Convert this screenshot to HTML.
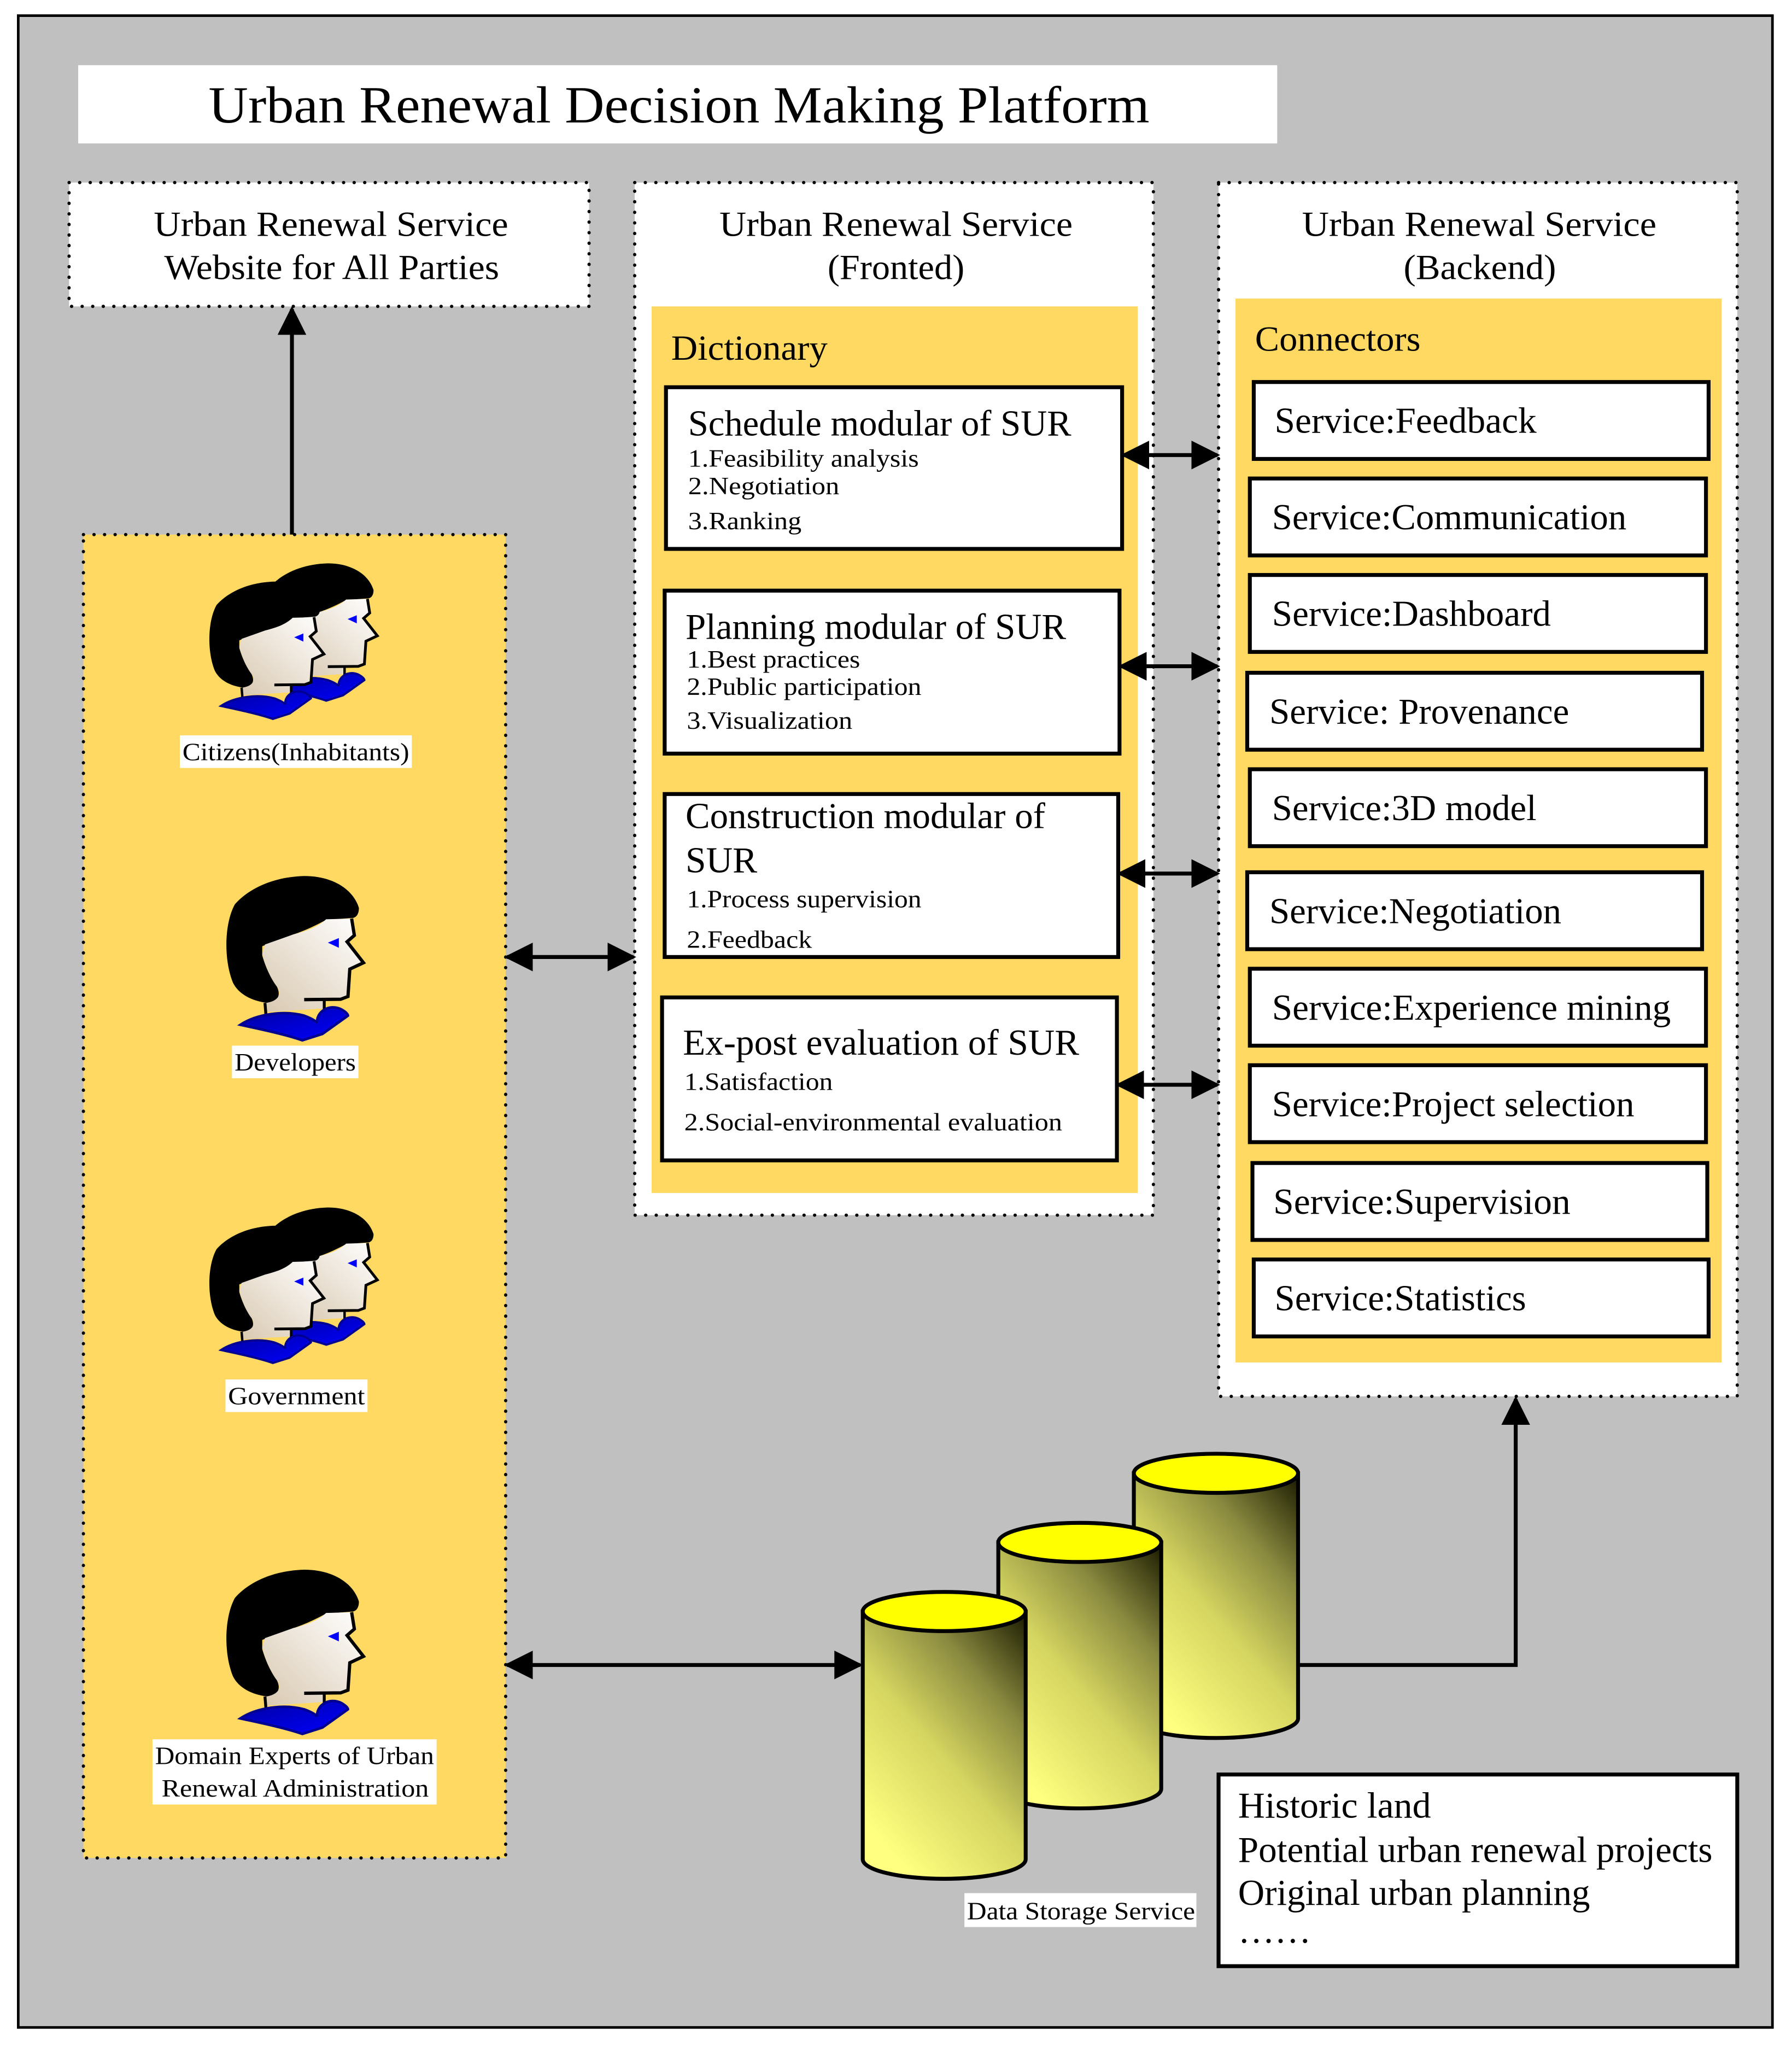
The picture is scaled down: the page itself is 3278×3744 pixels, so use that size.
<!DOCTYPE html>
<html><head><meta charset="utf-8"><style>html,body{margin:0;padding:0;background:#fff}svg{display:block}text{font-family:"Liberation Serif",serif;fill:#000}</style></head><body>
<svg width="3278" height="3744" viewBox="0 0 1375 1570" preserveAspectRatio="none" xmlns="http://www.w3.org/2000/svg">
<defs>
<linearGradient id="cyl" x1="1" y1="0" x2="0.3" y2="1">
<stop offset="0" stop-color="#1a1a00"/><stop offset="0.3" stop-color="#8a8a40"/><stop offset="0.6" stop-color="#d4d460"/><stop offset="1" stop-color="#ffff80"/></linearGradient>
<linearGradient id="skin" x1="0" y1="1" x2="1" y2="0">
<stop offset="0" stop-color="#d8c8b0"/><stop offset="1" stop-color="#ffffff"/></linearGradient>
<linearGradient id="shirt" x1="0" y1="0" x2="1" y2="1">
<stop offset="0" stop-color="#0000a0"/><stop offset="1" stop-color="#0000ff"/></linearGradient>
<marker id="ahb" viewBox="0 0 10 10" refX="9" refY="5" markerWidth="22" markerHeight="22" markerUnits="userSpaceOnUse" orient="auto-start-reverse"><path d="M0,0 L10,5 L0,10 Z" fill="#000"/></marker>
<g id="p">
<path d="M180,190 C250,110 380,40 560,35 C720,35 830,110 860,210 C860,250 840,265 820,265 L680,275 C600,320 520,350 500,355 C420,390 350,410 330,420 L330,470 C350,540 380,600 410,640 C440,700 400,730 360,730 C270,720 200,680 170,620 C120,500 120,300 180,190 Z" fill="#000"/>
<path d="M345,410 L500,355 C560,340 630,320 680,272 L820,268 L835,360 L795,395 L885,510 L810,545 L800,695 L760,710 L670,712 L670,760 L355,780 L350,730 C420,720 440,680 410,640 C380,600 345,530 330,460 Z" fill="url(#skin)"/>
<path d="M820,268 L835,360 L795,395 L885,510 L810,545 L800,695 L760,710 L560,712" fill="none" stroke="#000" stroke-width="18"/>
<path d="M345,730 L350,790 M670,712 L670,770" stroke="#000" stroke-width="16"/>
<path d="M690,400 L750,375 L750,428 Z" fill="#0000ff"/>
<path d="M210,850 C300,790 450,770 560,800 C600,815 625,830 630,840 C630,780 680,750 730,755 C770,760 800,790 800,800 L660,900 L550,935 C450,900 300,870 210,850 Z" fill="url(#shirt)" stroke="#000090" stroke-width="14"/>
</g>
</defs>
<rect x="0" y="0" width="1375" height="1570" fill="#fff"/>
<rect x="14" y="12" width="1346" height="1543" fill="#c0c0c0" stroke="#000" stroke-width="2"/>
<rect x="60" y="50" width="920" height="60" fill="#fff"/>
<text x="160" y="94" font-size="40" textLength="722" lengthAdjust="spacingAndGlyphs">Urban Renewal Decision Making Platform</text>

<g stroke="#000" stroke-width="2.5" stroke-dasharray="0.1 8" stroke-linecap="round">
<rect x="53" y="140" width="399" height="95" fill="#fff"/>
<rect x="487" y="140" width="398" height="792" fill="#fff"/>
<rect x="935" y="140" width="398" height="931" fill="#fff"/>
<rect x="64" y="410" width="324" height="1015" fill="#ffd962"/>
</g>
<g font-size="27">
<text x="118" y="181" textLength="272" lengthAdjust="spacingAndGlyphs">Urban Renewal  Service</text>
<text x="126" y="214" textLength="257" lengthAdjust="spacingAndGlyphs">Website for All Parties</text>
<text x="552" y="181" textLength="271" lengthAdjust="spacingAndGlyphs">Urban Renewal  Service</text>
<text x="635" y="214" textLength="105" lengthAdjust="spacingAndGlyphs">(Fronted)</text>
<text x="999" y="181" textLength="272" lengthAdjust="spacingAndGlyphs">Urban Renewal  Service</text>
<text x="1077" y="214" textLength="117" lengthAdjust="spacingAndGlyphs">(Backend)</text>
</g>
<rect x="500" y="235" width="373" height="680" fill="#ffd962"/>
<rect x="948" y="229" width="373" height="816" fill="#ffd962"/>
<text x="515" y="276" font-size="27" textLength="120" lengthAdjust="spacingAndGlyphs">Dictionary</text>
<text x="963" y="269" font-size="27" textLength="127" lengthAdjust="spacingAndGlyphs">Connectors</text>

<g fill="#fff" stroke="#000" stroke-width="3">
<rect x="511" y="297" width="350" height="124"/>
<rect x="510" y="453" width="349" height="125"/>
<rect x="510" y="609" width="348" height="125"/>
<rect x="508" y="765" width="349" height="125"/>
</g>
<text x="528" y="334" font-size="28" textLength="294" lengthAdjust="spacingAndGlyphs">Schedule modular of SUR</text>
<g font-size="19">
<text x="528" y="358" textLength="177" lengthAdjust="spacingAndGlyphs">1.Feasibility analysis</text>
<text x="528" y="379" textLength="116" lengthAdjust="spacingAndGlyphs">2.Negotiation</text>
<text x="528" y="406" textLength="87" lengthAdjust="spacingAndGlyphs">3.Ranking</text>
</g>
<text x="526" y="490" font-size="28" textLength="292" lengthAdjust="spacingAndGlyphs">Planning modular of SUR</text>
<g font-size="19">
<text x="527" y="512" textLength="133" lengthAdjust="spacingAndGlyphs">1.Best practices</text>
<text x="527" y="533" textLength="180" lengthAdjust="spacingAndGlyphs">2.Public participation</text>
<text x="527" y="559" textLength="127" lengthAdjust="spacingAndGlyphs">3.Visualization</text>
</g>
<text x="526" y="635" font-size="28" textLength="276" lengthAdjust="spacingAndGlyphs">Construction modular of</text>
<text x="526" y="669" font-size="28" textLength="55" lengthAdjust="spacingAndGlyphs">SUR</text>
<g font-size="19">
<text x="527" y="696" textLength="180" lengthAdjust="spacingAndGlyphs">1.Process supervision</text>
<text x="527" y="727" textLength="96" lengthAdjust="spacingAndGlyphs">2.Feedback</text>
</g>
<text x="524" y="809" font-size="28" textLength="304" lengthAdjust="spacingAndGlyphs">Ex-post evaluation of SUR</text>
<g font-size="19">
<text x="525" y="836" textLength="114" lengthAdjust="spacingAndGlyphs">1.Satisfaction</text>
<text x="525" y="867" textLength="290" lengthAdjust="spacingAndGlyphs">2.Social-environmental evaluation</text>
</g>

<g fill="#fff" stroke="#000" stroke-width="3">
<rect x="962" y="293" width="349" height="59"/>
<rect x="959" y="367" width="350" height="59"/>
<rect x="959" y="441" width="350" height="59"/>
<rect x="957" y="516" width="349" height="59"/>
<rect x="959" y="590" width="350" height="59"/>
<rect x="957" y="669" width="349" height="59"/>
<rect x="959" y="743" width="350" height="59"/>
<rect x="959" y="817" width="350" height="59"/>
<rect x="961" y="892" width="349" height="59"/>
<rect x="962" y="966" width="349" height="59"/>
</g>
<g font-size="28">
<text x="978" y="332" textLength="201" lengthAdjust="spacingAndGlyphs">Service:Feedback</text>
<text x="976" y="406" textLength="272" lengthAdjust="spacingAndGlyphs">Service:Communication</text>
<text x="976" y="480" textLength="214" lengthAdjust="spacingAndGlyphs">Service:Dashboard</text>
<text x="974" y="555" textLength="230" lengthAdjust="spacingAndGlyphs">Service: Provenance</text>
<text x="976" y="629" textLength="203" lengthAdjust="spacingAndGlyphs">Service:3D model</text>
<text x="974" y="708" textLength="224" lengthAdjust="spacingAndGlyphs">Service:Negotiation</text>
<text x="976" y="782" textLength="306" lengthAdjust="spacingAndGlyphs">Service:Experience mining</text>
<text x="976" y="856" textLength="278" lengthAdjust="spacingAndGlyphs">Service:Project selection</text>
<text x="977" y="931" textLength="228" lengthAdjust="spacingAndGlyphs">Service:Supervision</text>
<text x="978" y="1005" textLength="193" lengthAdjust="spacingAndGlyphs">Service:Statistics</text>
</g>

<g stroke="#000" stroke-width="3" fill="none">
<line x1="862" y1="349" x2="934" y2="349" marker-start="url(#ahb)" marker-end="url(#ahb)"/>
<line x1="860" y1="511" x2="934" y2="511" marker-start="url(#ahb)" marker-end="url(#ahb)"/>
<line x1="859" y1="670" x2="934" y2="670" marker-start="url(#ahb)" marker-end="url(#ahb)"/>
<line x1="858" y1="832" x2="934" y2="832" marker-start="url(#ahb)" marker-end="url(#ahb)"/>
<line x1="224" y1="410" x2="224" y2="237" marker-end="url(#ahb)"/>
<line x1="389" y1="734" x2="486" y2="734" marker-start="url(#ahb)" marker-end="url(#ahb)"/>
<line x1="389" y1="1277" x2="660" y2="1277" marker-start="url(#ahb)" marker-end="url(#ahb)"/>
<polyline points="996,1277 1163,1277 1163,1073" marker-end="url(#ahb)"/>
</g>

<g stroke="#000" stroke-width="3">
<path d="M870,1130 L870,1318 A63,15 0 0 0 996,1318 L996,1130 Z" fill="url(#cyl)"/>
<ellipse cx="933" cy="1130" rx="63" ry="15" fill="#ffff00"/>
<path d="M766,1183 L766,1372 A62.5,15 0 0 0 891,1372 L891,1183 Z" fill="url(#cyl)"/>
<ellipse cx="828.5" cy="1183" rx="62.5" ry="15" fill="#ffff00"/>
<path d="M662,1236 L662,1426 A62.5,15 0 0 0 787,1426 L787,1236 Z" fill="url(#cyl)"/>
<ellipse cx="724.5" cy="1236" rx="62.5" ry="15" fill="#ffff00"/>
</g>
<rect x="740" y="1452" width="178" height="26" fill="#fff"/>
<text x="742" y="1472" font-size="19" textLength="175" lengthAdjust="spacingAndGlyphs">Data Storage Service</text>

<rect x="935" y="1361" width="398" height="147" fill="#fff" stroke="#000" stroke-width="3"/>
<g font-size="28">
<text x="950" y="1394" textLength="148" lengthAdjust="spacingAndGlyphs">Historic land</text>
<text x="950" y="1428" textLength="364" lengthAdjust="spacingAndGlyphs">Potential urban renewal projects</text>
<text x="950" y="1461" textLength="270" lengthAdjust="spacingAndGlyphs">Original urban planning</text>
<text x="950" y="1490">……</text>
</g>

<use href="#p" transform="translate(186,428) scale(0.117)"/>
<use href="#p" transform="translate(145,442) scale(0.117)"/>
<use href="#p" transform="translate(155,667) scale(0.14)"/>
<use href="#p" transform="translate(186,922) scale(0.117)"/>
<use href="#p" transform="translate(145,936) scale(0.117)"/>
<use href="#p" transform="translate(155,1199) scale(0.14)"/>

<g fill="#fff">
<rect x="138" y="564" width="178" height="25"/>
<rect x="178" y="802" width="97" height="25"/>
<rect x="173" y="1058" width="109" height="25"/>
<rect x="117" y="1334" width="218" height="50"/>
</g>
<g font-size="19">
<text x="140" y="583" textLength="174" lengthAdjust="spacingAndGlyphs">Citizens(Inhabitants)</text>
<text x="180" y="821" textLength="93" lengthAdjust="spacingAndGlyphs">Developers</text>
<text x="175" y="1077" textLength="105" lengthAdjust="spacingAndGlyphs">Government</text>
<text x="119" y="1353" textLength="214" lengthAdjust="spacingAndGlyphs">Domain Experts of Urban</text>
<text x="124" y="1378" textLength="205" lengthAdjust="spacingAndGlyphs">Renewal Administration</text>
</g>
</svg>
</body></html>
